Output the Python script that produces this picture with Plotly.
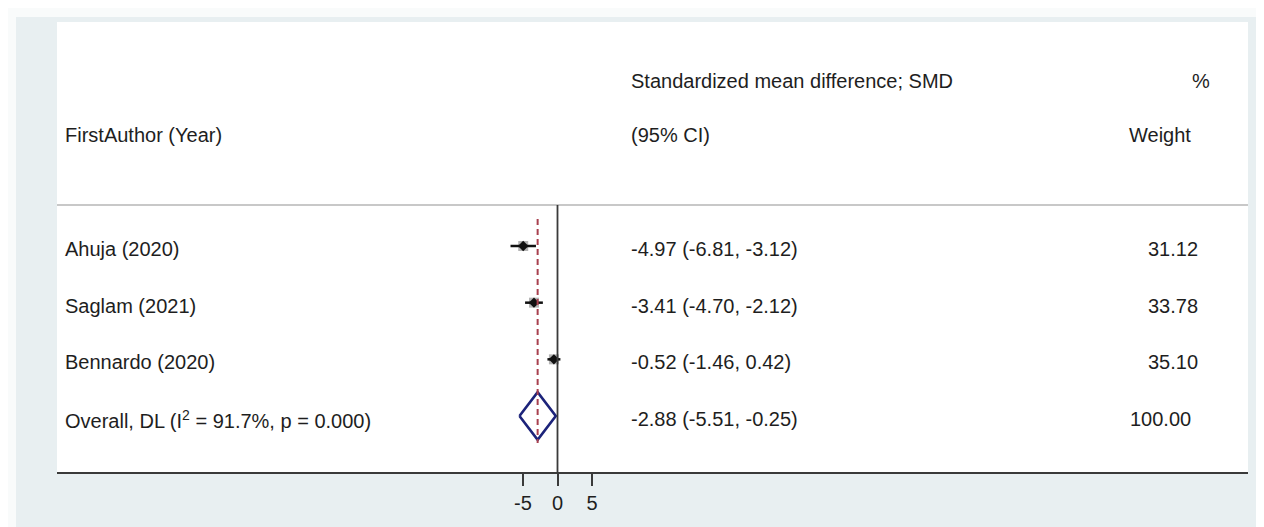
import plotly.graph_objects as go

# ---------------- data ----------------
studies = ["Ahuja (2020)", "Saglam (2021)", "Bennardo (2020)"]
smd = [-4.97, -3.41, -0.52]
ci_low = [-6.81, -4.70, -1.46]
ci_high = [-3.12, -2.12, 0.42]
weights = [31.12, 33.78, 35.10]

overall_label = "Overall, DL (I<sup>2</sup> = 91.7%, p = 0.000)"
overall_smd = -2.88
overall_low = -5.51
overall_high = -0.25
overall_weight = 100.00

tick_vals = [-5, 0, 5]

header_col1 = "FirstAuthor (Year)"
header_col2a = "Standardized mean difference; SMD"
header_col2b = "(95% CI)"
header_col3a = "%"
header_col3b = "Weight"

# ---------------- layout helpers ----------------
W, H = 1264, 527
def px(x):
    return x / W
def py(y):
    return 1 - y / H

PANEL_L, PANEL_R, PANEL_T, PANEL_B = 49, 1240, 14, 464
ZERO_PX, UNIT_PX = 549.5, 6.9
ROW0_PX, ROW_PX = 238, 56.67

xmin = (PANEL_L - ZERO_PX) / UNIT_PX
xmax = (PANEL_R - ZERO_PX) / UNIT_PX
ytop = (PANEL_T - ROW0_PX) / ROW_PX
ybot = (PANEL_B - ROW0_PX) / ROW_PX
def yrow(pix):
    return (pix - ROW0_PX) / ROW_PX

FONT = "Liberation Sans, Arial, sans-serif"
TXT = "#1e1e1e"
FS = 20

fig = go.Figure()

rows = list(range(len(studies)))
orow = len(studies)

# weight squares
fig.add_trace(go.Scatter(
    x=smd, y=rows, mode="markers",
    marker=dict(symbol="square", size=10, color="#b4b4b4", line=dict(width=0)),
    hoverinfo="skip", showlegend=False))

# CI lines
for i in rows:
    fig.add_trace(go.Scatter(
        x=[ci_low[i], ci_high[i]], y=[i, i], mode="lines",
        line=dict(color="#111111", width=2.5),
        hoverinfo="skip", showlegend=False))

# point estimates
fig.add_trace(go.Scatter(
    x=smd, y=rows, mode="markers",
    marker=dict(symbol="diamond", size=8, color="#111111"),
    hoverinfo="skip", showlegend=False))

# overall diamond
hd = 0.42
fig.add_trace(go.Scatter(
    x=[overall_low, overall_smd, overall_high, overall_smd, overall_low],
    y=[orow, orow - hd, orow, orow + hd, orow], mode="lines",
    line=dict(color="#1c237a", width=2.6),
    hoverinfo="skip", showlegend=False))

shapes = [
    # outer blue-gray frame
    dict(type="rect", xref="paper", yref="paper", x0=px(8), x1=1, y0=0, y1=py(9),
         fillcolor="#e8eff1", line=dict(width=0), layer="below"),
    # white panel
    dict(type="rect", xref="paper", yref="paper", x0=px(PANEL_L), x1=px(PANEL_R),
         y0=py(PANEL_B), y1=py(PANEL_T), fillcolor="#ffffff", line=dict(width=0), layer="below"),
    # header separator
    dict(type="line", xref="paper", yref="y", x0=px(PANEL_L), x1=px(PANEL_R),
         y0=yrow(197), y1=yrow(197), line=dict(color="#c8c8c8", width=2)),
    # null line
    dict(type="line", xref="x", yref="y", x0=0, x1=0, y0=yrow(197), y1=ybot,
         line=dict(color="#3a3a3a", width=1.8)),
    # overall dashed line
    dict(type="line", xref="x", yref="y", x0=overall_smd, x1=overall_smd,
         y0=yrow(211), y1=yrow(435), line=dict(color="#a8404f", width=2, dash="6px,4px")),
]

ann = []
def text(x, y, s, anchor="left", yref="paper", yshift=0):
    ann.append(dict(x=x, y=y, xref="paper", yref=yref, text=s, showarrow=False,
                    xanchor=anchor, yanchor="middle", yshift=yshift,
                    font=dict(family=FONT, size=FS, color=TXT)))

# headers
text(px(55), py(127), header_col1)
text(px(621), py(73), header_col2a)
text(px(621), py(127), header_col2b)
text(px(1204), py(73), header_col3a, anchor="right")
text(px(1185), py(127), header_col3b, anchor="right")

# study rows
for i in rows:
    text(px(55), i, studies[i], yref="y", yshift=-3)
    text(px(621), i, f"{smd[i]:.2f} ({ci_low[i]:.2f}, {ci_high[i]:.2f})", yref="y", yshift=-3)
    text(px(1192), i, f"{weights[i]:.2f}", anchor="right", yref="y", yshift=-3)

text(px(55), orow, overall_label, yref="y", yshift=-3)
text(px(621), orow, f"{overall_smd:.2f} ({overall_low:.2f}, {overall_high:.2f})", yref="y", yshift=-3)
text(px(1185), orow, f"{overall_weight:.2f}", anchor="right", yref="y", yshift=-3)

fig.update_layout(
    width=W, height=H,
    margin=dict(l=0, r=0, t=0, b=0),
    paper_bgcolor="#f9fbfb",
    plot_bgcolor="#ffffff",
    shapes=shapes,
    annotations=ann,
    xaxis=dict(domain=[px(PANEL_L), px(PANEL_R)], range=[xmin, xmax],
               tickvals=tick_vals, ticktext=[str(v) for v in tick_vals],
               ticks="outside", ticklen=12, tickwidth=1.6, tickcolor="#3a3a3a",
               showline=True, linecolor="#3a3a3a", linewidth=2,
               showgrid=False, zeroline=False,
               tickfont=dict(family=FONT, size=FS, color=TXT)),
    yaxis=dict(domain=[py(PANEL_B), py(PANEL_T)], range=[ybot, ytop],
               showticklabels=False, showgrid=False, zeroline=False, showline=False),
    showlegend=False,
)

fig.write_html("out.html")
